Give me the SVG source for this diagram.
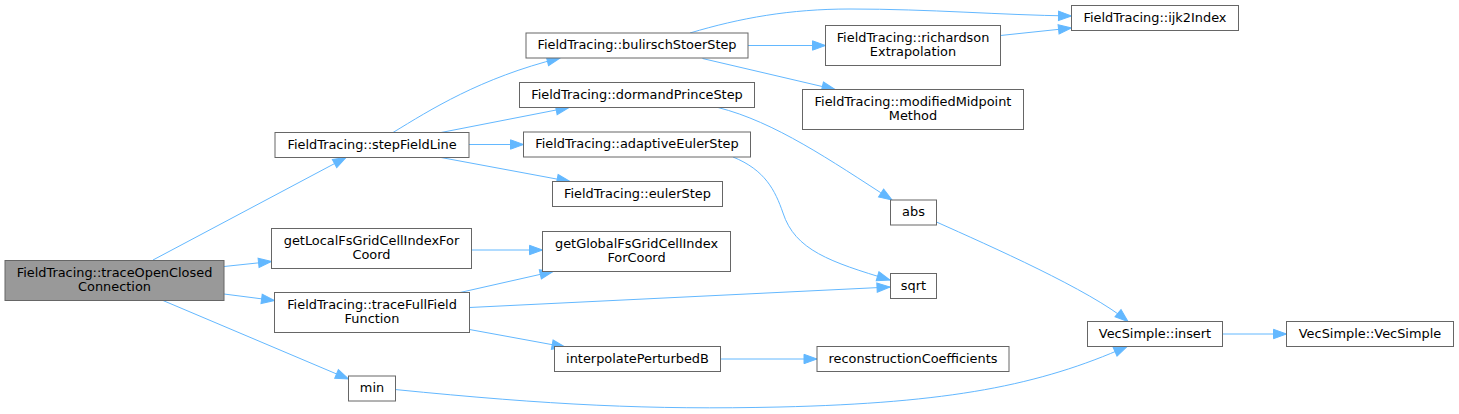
<svg xmlns="http://www.w3.org/2000/svg" width="1459" height="414" viewBox="0 0 1459 414">
<style>
.n rect{fill:#ffffff;stroke:#666666;stroke-width:1}
.n.root rect{fill:#999999}
.n text{font-family:"DejaVu Sans",Verdana,sans-serif;font-size:12.9px;fill:#000000;text-anchor:middle}
.e path{fill:none;stroke:#63b8ff;stroke-width:1;marker-end:url(#ah)}
</style>
<defs>
<marker id="ah" markerWidth="16" markerHeight="12" refX="13" refY="4.7" orient="auto" markerUnits="userSpaceOnUse" overflow="visible">
<path d="M0,0 L13,4.7 L0,9.4 Z" fill="#63b8ff" stroke="#63b8ff" stroke-width="1"/>
</marker>
</defs>
<rect width="1459" height="414" fill="#ffffff"/>
<g id="connectors" class="e">
<path d="M153,260 L346,157.5"/>
<path d="M224,266.5 L271.5,261.5"/>
<path d="M224,294 L274.5,300.5"/>
<path d="M163,300.5 L348.5,379"/>
<path d="M393,132.5 C430,110 480,78 560,58"/>
<path d="M441,132.5 L569,107.5"/>
<path d="M469,144.5 L523.5,144.5"/>
<path d="M441,157.5 L570,181.5"/>
<path d="M690,33 C740,18 790,9 850,9 C930,9 1000,15 1071.5,16"/>
<path d="M748,45.5 L825.5,45.5"/>
<path d="M702.5,58.5 L835,89.5"/>
<path d="M1000.5,35.5 L1071.5,28"/>
<path d="M718,107.5 C775,122 830,160 892,200"/>
<path d="M733,157 C765,170 775,190 783,213 C795,250 830,262 890,280"/>
<path d="M469.5,307.5 L890,287"/>
<path d="M460,292.5 L553,271.5"/>
<path d="M472,250 L542.5,250"/>
<path d="M469.5,329.5 L565,347"/>
<path d="M721,359 L817,359"/>
<path d="M936.5,222 C990,246 1090,290 1128,321.5"/>
<path d="M395,389.5 C550,405 650,410 780,407 C950,403 1040,385 1127,346.5"/>
<path d="M1222.5,334 L1286.5,334"/>
</g>
<g id="n_root" class="n root"><rect x="5" y="260.5" width="219" height="40"/><text x="114.5" y="277.2">FieldTracing::traceOpenClosed</text><text x="114.5" y="290.7">Connection</text></g>
<g id="n_step" class="n"><rect x="275" y="132.5" width="194" height="25"/><text x="372" y="148.7">FieldTracing::stepFieldLine</text></g>
<g id="n_bs" class="n"><rect x="526" y="33" width="222" height="25"/><text x="637" y="49.2">FieldTracing::bulirschStoerStep</text></g>
<g id="n_dp" class="n"><rect x="519.5" y="82.5" width="235" height="25"/><text x="637" y="98.7">FieldTracing::dormandPrinceStep</text></g>
<g id="n_ae" class="n"><rect x="523.5" y="132" width="227" height="25"/><text x="637" y="148.2">FieldTracing::adaptiveEulerStep</text></g>
<g id="n_eu" class="n"><rect x="552.5" y="181.5" width="170" height="25"/><text x="637.5" y="197.7">FieldTracing::eulerStep</text></g>
<g id="n_ijk" class="n"><rect x="1071.5" y="5.5" width="167" height="25"/><text x="1155" y="21.7">FieldTracing::ijk2Index</text></g>
<g id="n_ri" class="n"><rect x="825.5" y="25.5" width="175" height="40"/><text x="913" y="42.2">FieldTracing::richardson</text><text x="913" y="55.7">Extrapolation</text></g>
<g id="n_mm" class="n"><rect x="802.5" y="89.5" width="221" height="40"/><text x="913" y="106.2">FieldTracing::modifiedMidpoint</text><text x="913" y="119.7">Method</text></g>
<g id="n_gl" class="n"><rect x="271.5" y="228.5" width="200" height="40"/><text x="371.5" y="245.2">getLocalFsGridCellIndexFor</text><text x="371.5" y="258.7">Coord</text></g>
<g id="n_gg" class="n"><rect x="542.5" y="231.5" width="188" height="40"/><text x="636.5" y="248.2">getGlobalFsGridCellIndex</text><text x="636.5" y="261.7">ForCoord</text></g>
<g id="n_tf" class="n"><rect x="274.5" y="292.5" width="195" height="40"/><text x="372" y="309.2">FieldTracing::traceFullField</text><text x="372" y="322.7">Function</text></g>
<g id="n_ip" class="n"><rect x="554.5" y="346.5" width="166" height="25"/><text x="637.5" y="362.7">interpolatePerturbedB</text></g>
<g id="n_min" class="n"><rect x="348.5" y="376" width="47" height="25"/><text x="372" y="392.2">min</text></g>
<g id="n_abs" class="n"><rect x="890.5" y="200" width="46" height="25"/><text x="913.5" y="216.2">abs</text></g>
<g id="n_sqrt" class="n"><rect x="890.5" y="273.5" width="46" height="25"/><text x="913.5" y="289.7">sqrt</text></g>
<g id="n_ins" class="n"><rect x="1087.5" y="321.5" width="135" height="25"/><text x="1155" y="337.7">VecSimple::insert</text></g>
<g id="n_vs" class="n"><rect x="1286.5" y="321.5" width="167" height="25"/><text x="1370" y="337.7">VecSimple::VecSimple</text></g>
<g id="n_rc" class="n"><rect x="817" y="346.5" width="192" height="25"/><text x="913" y="362.7">reconstructionCoefficients</text></g>
</svg>
